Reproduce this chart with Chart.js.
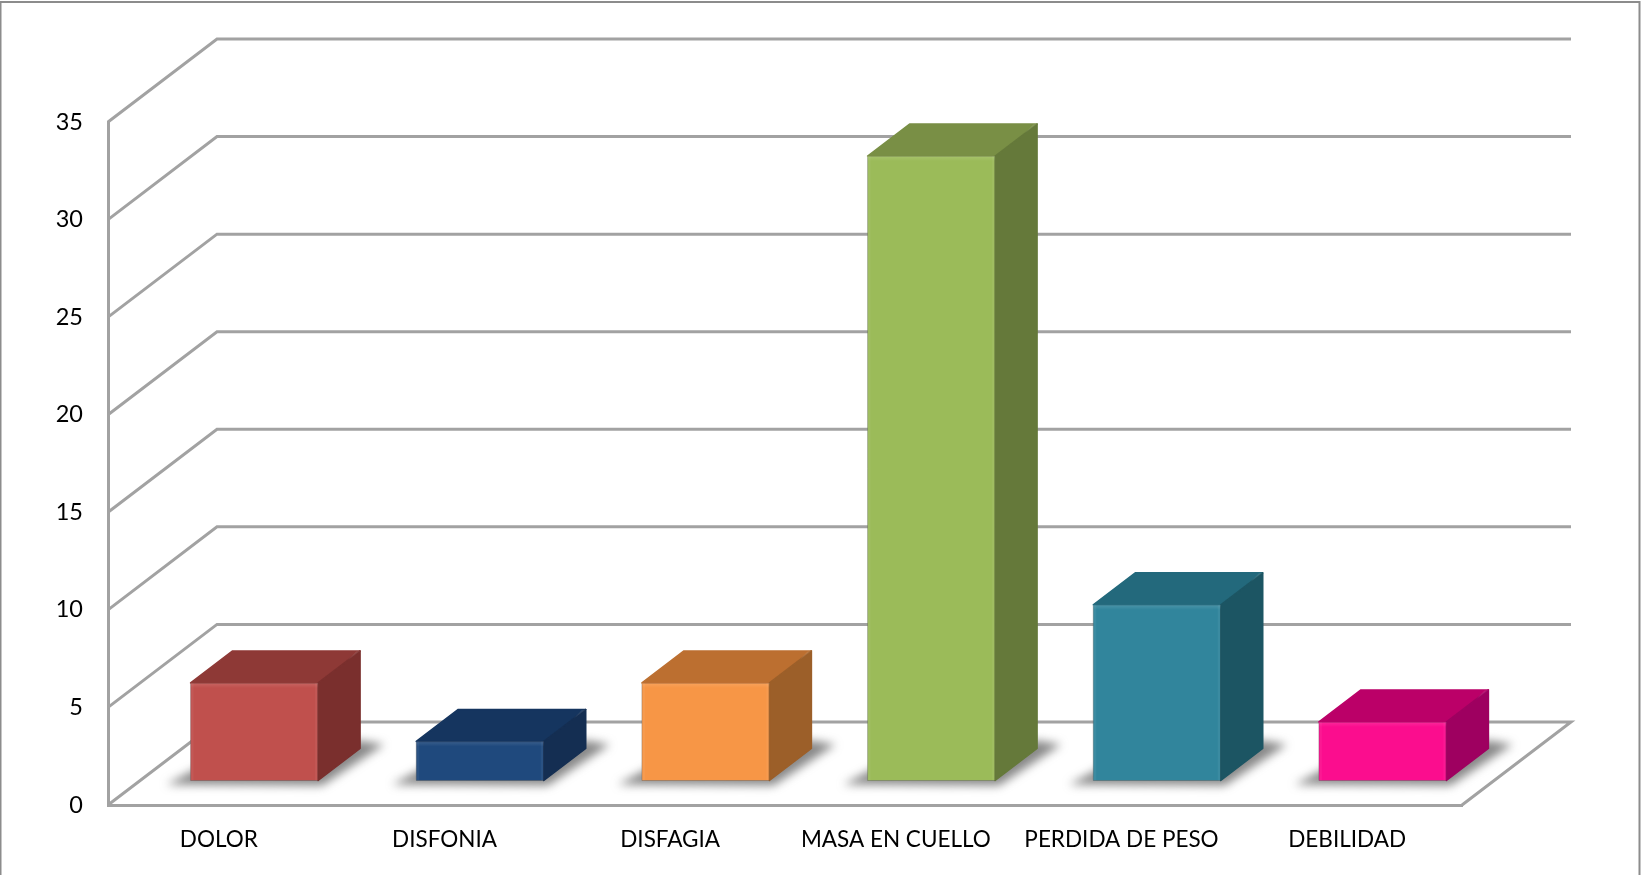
<!DOCTYPE html>
<html>
<head>
<meta charset="utf-8">
<title>Síntomas</title>
<style>
  html, body { margin: 0; padding: 0; background: #fff; overflow: hidden; }
  canvas { display: block; }
</style>
<script src="https://cdn.jsdelivr.net/npm/chart.js@4/dist/chart.umd.min.js"></script>
</head>
<body>
<canvas id="c" width="1641" height="875"></canvas>
<script>
const categories = ['DOLOR', 'DISFONIA', 'DISFAGIA', 'MASA EN CUELLO', 'PERDIDA DE PESO', 'DEBILIDAD'];
const casos = [5, 2, 5, 32, 9, 3];
const yTicks = [0, 5, 10, 15, 20, 25, 30, 35];

const frontColors = ['#C0504D', '#1F497D', '#F79646', '#9BBB59', '#31859C', '#FB0D8E'];
const topColors   = ['#8E3936', '#15355F', '#BC6F30', '#798F45', '#23697C', '#BB0068'];
const sideColors  = ['#7A2F2D', '#142E52', '#9C5F29', '#65793A', '#1C5563', '#9E0060'];

const GRID = '#A2A2A2';
// Oblique projection: full floor depth, the plane the bars stand on, and a bar's depth.
const WALL = { x: 109, y: -83 };
const PLANE = { x: 33.5, y: -24.5 };
const BAR = { x: 42, y: -32 };

function poly(ctx, pts, fill, stroke) {
  ctx.beginPath();
  pts.forEach((p, i) => i ? ctx.lineTo(p[0], p[1]) : ctx.moveTo(p[0], p[1]));
  ctx.closePath();
  ctx.fillStyle = fill;
  ctx.fill();
  if (stroke) {
    ctx.strokeStyle = stroke;
    ctx.lineWidth = 1.5;
    ctx.lineJoin = 'round';
    ctx.stroke();
  }
}

const box3d = {
  id: 'box3d',
  beforeDraw(chart) {
    const ctx = chart.ctx;
    ctx.save();
    ctx.strokeStyle = '#8c8c8c';
    ctx.lineWidth = 2;
    ctx.beginPath();
    ctx.moveTo(0.5, 875);
    ctx.lineTo(0.5, 2);
    ctx.lineTo(1639.5, 2);
    ctx.lineTo(1639.5, 875);
    ctx.stroke();
    ctx.restore();
  },
  beforeDatasetsDraw(chart) {
    const { ctx, chartArea: a, scales: { y } } = chart;
    ctx.save();
    ctx.strokeStyle = GRID;
    ctx.lineWidth = 3;
    ctx.lineJoin = 'miter';
    yTicks.forEach(v => {
      const py = y.getPixelForValue(v);
      ctx.beginPath();
      ctx.moveTo(a.left, py);
      ctx.lineTo(a.left + WALL.x, py + WALL.y);
      ctx.lineTo(a.right + WALL.x, py + WALL.y);
      if (v === 0) ctx.lineTo(a.right, py);
      ctx.stroke();
    });
    // Soft drop shadows on the floor
    const meta = chart.getDatasetMeta(0);
    ctx.filter = 'blur(5px)';
    meta.data.forEach(el => {
      const l = el.x - el.width / 2 + PLANE.x;
      const r = el.x + el.width / 2 + PLANE.x;
      const b = el.base + PLANE.y;
      poly(ctx, [
        [l - 24, b + 4], [r + 4, b + 5],
        [r + BAR.x + 24, b - 36], [r + BAR.x, b - 40], [l + 10, b - 14]
      ], 'rgba(90,90,90,0.72)');
    });
    ctx.filter = 'none';
    ctx.restore();
  },
  beforeDatasetDraw(chart) {
    chart.ctx.save();
    chart.ctx.translate(PLANE.x, PLANE.y);
  },
  afterDatasetDraw(chart) {
    const ctx = chart.ctx;
    chart.getDatasetMeta(0).data.forEach((el, i) => {
      const l = el.x - el.width / 2, r = el.x + el.width / 2;
      const t = el.y, b = el.base;
      poly(ctx, [[l, t], [r, t], [r + BAR.x, t + BAR.y], [l + BAR.x, t + BAR.y]], topColors[i], topColors[i]);
      poly(ctx, [[r, t], [r + BAR.x, t + BAR.y], [r + BAR.x, b + BAR.y], [r, b]], sideColors[i], sideColors[i]);
      // Bevelled highlights along the edges of the front face
      const g = ctx.createLinearGradient(0, t, 0, t + 5);
      g.addColorStop(0, 'rgba(255,255,255,0.12)');
      g.addColorStop(1, 'rgba(255,255,255,0)');
      ctx.fillStyle = g;
      ctx.fillRect(l, t, el.width, 5);
      ctx.fillStyle = 'rgba(255,255,255,0.05)';
      ctx.fillRect(l, t, 3, b - t);
      ctx.fillRect(r - 3, t, 3, b - t);
      // Thin grey rim round the front face
      ctx.strokeStyle = 'rgba(70,70,70,0.3)';
      ctx.lineWidth = 1;
      ctx.beginPath();
      ctx.moveTo(l, t + 1);
      ctx.lineTo(l, b);
      ctx.lineTo(r, b);
      ctx.stroke();
      // Light catch on the rounded rear corner of the top face
      poly(ctx, [[r + BAR.x - 12, t + BAR.y + 9], [r + BAR.x, t + BAR.y], [r + BAR.x - 4, t + BAR.y + 0.5]], 'rgba(255,255,255,0.10)');
    });
    ctx.restore();
  }
};

new Chart(document.getElementById('c'), {
  type: 'bar',
  data: {
    labels: categories,
    datasets: [{
      data: casos,
      backgroundColor: frontColors,
      borderWidth: 0,
      barPercentage: 0.565,
      categoryPercentage: 1,
      clip: false
    }]
  },
  options: {
    responsive: false,
    animation: false,
    events: [],
    layout: { padding: { top: 122, right: 179, left: 0, bottom: 0 } },
    plugins: { legend: { display: false }, title: { display: false }, tooltip: { enabled: false } },
    scales: {
      x: {
        afterFit(s) { s.height = 70; },
        grid: { display: false, drawTicks: false },
        border: { display: true, color: GRID, width: 3 },
        ticks: {
          padding: 21, labelOffset: -2, maxRotation: 0, autoSkip: false, color: '#000',
          font: { family: 'Lato', size: 22.5 }
        }
      },
      y: {
        min: 0,
        max: 35,
        afterFit(s) { s.width = 108; },
        afterBuildTicks(s) { s.ticks = yTicks.map(value => ({ value })); },
        grid: { display: false, drawTicks: false },
        border: { display: true, color: GRID, width: 3 },
        ticks: {
          padding: 25, color: '#000',
          font: { family: 'Lato', size: 23.5 }
        }
      }
    }
  },
  plugins: [box3d]
});
</script>
</body>
</html>
